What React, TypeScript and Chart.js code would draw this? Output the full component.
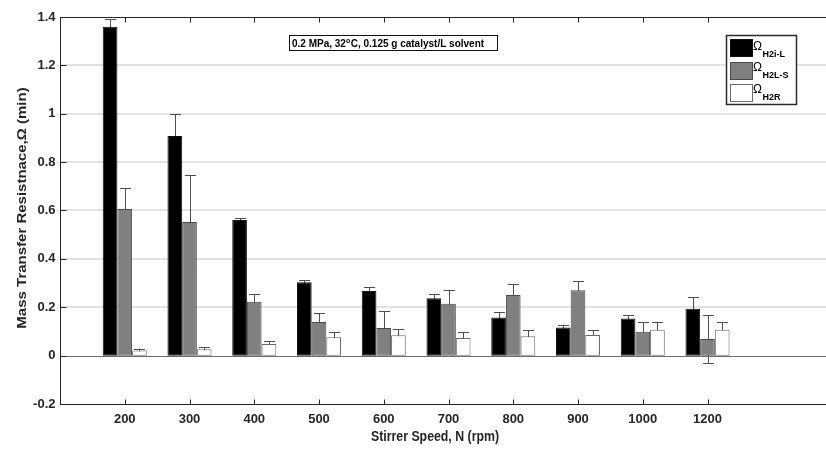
import React, { useEffect, useRef } from 'react';
import { Chart, registerables } from 'chart.js';

Chart.register(...registerables);

// ---- data ----
const speeds = ['200', '300', '400', '500', '600', '700', '800', '900', '1000', '1200'];
const omegaH2iL = [1.36, 0.908, 0.561, 0.303, 0.267, 0.237, 0.158, 0.116, 0.154, 0.194];
const errH2iL = [0.03, 0.09, 0.008, 0.011, 0.018, 0.018, 0.024, 0.012, 0.013, 0.047];
const omegaH2LS = [0.606, 0.552, 0.223, 0.139, 0.114, 0.214, 0.251, 0.27, 0.099, 0.069];
const errH2LS = [0.088, 0.193, 0.033, 0.039, 0.071, 0.057, 0.045, 0.037, 0.04, 0.098];
const omegaH2R = [0.021, 0.026, 0.048, 0.076, 0.084, 0.073, 0.08, 0.085, 0.107, 0.107];
const errH2R = [0.005, 0.008, 0.013, 0.022, 0.026, 0.025, 0.025, 0.022, 0.033, 0.033];
const yTicks = [-0.2, 0, 0.2, 0.4, 0.6, 0.8, 1.0, 1.2, 1.4];
const seriesNames = ['H2i-L', 'H2L-S', 'H2R'];
const xTitle = 'Stirrer Speed, N (rpm)';
const yTitle = 'Mass Transfer Resistnace,\u03A9 (min)';
const noteParts = ['0.2 MPa, 32', 'o', 'C, 0.125 g catalyst/L solvent'];

// padded categories: one empty slot before, two after (x limits 0..12)
const labels = ['', ...speeds, '', ''];
const pad = (a: number[]) => [null, ...a, null, null];

const FONT = '"Liberation Sans", Arial, sans-serif';
const fills = ['#000000', '#808080', '#ffffff'];
const edges = ['#111111', '#4a4a4a', '#6a6a6a'];
const errs = [errH2iL, errH2LS, errH2R];

const drawPlugin = {
  id: 'matlabStyle',
  beforeDatasetsDraw(chart: any) {
    const { ctx, chartArea: ca } = chart;
    const ys = chart.scales.y;
    ctx.save();
    // horizontal grid
    ctx.strokeStyle = '#e2e2e2';
    ctx.lineWidth = 2;
    yTicks.forEach((t) => {
      if (t === -0.2 || t === 1.4 || t === 0) return;
      const py = Math.round(ys.getPixelForValue(t));
      ctx.beginPath();
      ctx.moveTo(ca.left, py);
      ctx.lineTo(ca.right, py);
      ctx.stroke();
    });
    // error bars (behind bars)
    ctx.strokeStyle = '#505050';
    ctx.lineWidth = 1;
    chart.data.datasets.forEach((ds: any, di: number) => {
      const meta = chart.getDatasetMeta(di);
      meta.data.forEach((el: any, i: number) => {
        const v = ds.data[i];
        if (v == null) return;
        const e = errs[di][i - 1];
        const x = Math.round(el.x) + 0.5;
        const yt = Math.round(ys.getPixelForValue(v + e)) + 0.5;
        const yb = Math.round(ys.getPixelForValue(v - e)) + 0.5;
        ctx.beginPath();
        ctx.moveTo(x, yt);
        ctx.lineTo(x, yb);
        ctx.moveTo(x - 5.5, yt);
        ctx.lineTo(x + 5.5, yt);
        ctx.moveTo(x - 5.5, yb);
        ctx.lineTo(x + 5.5, yb);
        ctx.stroke();
      });
    });
    ctx.restore();
  },
  afterDatasetsDraw(chart: any) {
    const { ctx, chartArea: ca } = chart;
    const ys = chart.scales.y;
    ctx.save();
    const py = Math.round(ys.getPixelForValue(0)) + 0.5;
    ctx.strokeStyle = '#6e6e6e';
    ctx.lineWidth = 1;
    ctx.beginPath();
    ctx.moveTo(ca.left, py);
    ctx.lineTo(ca.right, py);
    ctx.stroke();
    ctx.restore();
  },
  afterDraw(chart: any) {
    const { ctx, chartArea: ca } = chart;
    const xs = chart.scales.x;
    const ys = chart.scales.y;
    ctx.save();
    const L = Math.round(ca.left) + 0.5;
    const R = Math.round(ca.right) + 0.5;
    const T = Math.round(ca.top) + 0.5;
    const B = Math.round(ca.bottom) + 0.5;
    ctx.strokeStyle = '#262626';
    ctx.lineWidth = 1;
    ctx.strokeRect(L, T, R - L, B - T);
    // x ticks (inward, bottom and top)
    ctx.beginPath();
    speeds.forEach((_, i) => {
      const x = Math.round(xs.getPixelForValue(i + 1)) + 0.5;
      ctx.moveTo(x, B);
      ctx.lineTo(x, B - 5);
      ctx.moveTo(x, T);
      ctx.lineTo(x, T + 5);
    });
    // y ticks (inward, left)
    yTicks.forEach((t) => {
      const y = Math.round(ys.getPixelForValue(t)) + 0.5;
      ctx.moveTo(L, y);
      ctx.lineTo(L + 6, y);
    });
    ctx.stroke();

    ctx.fillStyle = '#262626';
    ctx.font = `bold 13px ${FONT}`;
    ctx.textBaseline = 'middle';
    ctx.textAlign = 'right';
    yTicks.forEach((t) => {
      const y = ys.getPixelForValue(t);
      ctx.fillText(String(Math.round(t * 10) / 10), L - 5, y);
    });
    ctx.textAlign = 'center';
    speeds.forEach((s, i) => {
      const x = xs.getPixelForValue(i + 1);
      ctx.fillText(s, x, 419.5);
    });
    // axis titles
    ctx.font = `bold 14px ${FONT}`;
    ctx.save();
    ctx.translate(435, 437.5);
    ctx.scale(0.88, 1);
    ctx.fillText(xTitle, 0, 0);
    ctx.restore();
    ctx.save();
    ctx.font = `bold 15px ${FONT}`;
    ctx.translate(22, 208);
    ctx.rotate(-Math.PI / 2);
    ctx.scale(1, 0.88);
    ctx.fillText(yTitle, 0, 0);
    ctx.restore();

    // annotation box
    ctx.fillStyle = '#ffffff';
    ctx.fillRect(289.5, 35.5, 208, 15);
    ctx.strokeStyle = '#111111';
    ctx.lineWidth = 1;
    ctx.strokeRect(289.5, 35.5, 208, 15);
    ctx.fillStyle = '#000000';
    ctx.textAlign = 'left';
    ctx.textBaseline = 'alphabetic';
    const big = `bold 10px ${FONT}`;
    const small = `bold 7px ${FONT}`;
    ctx.font = big;
    const w0 = ctx.measureText(noteParts[0]).width;
    const w2 = ctx.measureText(noteParts[2]).width;
    ctx.font = small;
    const w1 = ctx.measureText(noteParts[1]).width + 0.5;
    const total = w0 + w1 + w2;
    const s = Math.min(1, 199 / total);
    ctx.save();
    ctx.translate(292, 46.5);
    ctx.scale(s, 1);
    ctx.font = big;
    ctx.fillText(noteParts[0], 0, 0);
    ctx.font = small;
    ctx.fillText(noteParts[1], w0, -4);
    ctx.font = big;
    ctx.fillText(noteParts[2], w0 + w1, 0);
    ctx.restore();

    // legend
    ctx.fillStyle = '#ffffff';
    ctx.fillRect(726.5, 35.5, 70, 69);
    ctx.strokeStyle = '#2a2a2a';
    ctx.lineWidth = 1.5;
    ctx.strokeRect(726.5, 35.5, 70, 69);
    const swY = [39.5, 62.5, 84.5];
    const omY = [50, 71, 92.5];
    const subY = [57, 78, 100];
    seriesNames.forEach((n, i) => {
      ctx.fillStyle = fills[i];
      ctx.fillRect(730.5, swY[i], 22, 17);
      ctx.strokeStyle = edges[i];
      ctx.lineWidth = 1;
      ctx.strokeRect(730.5, swY[i], 22, 17);
      ctx.fillStyle = '#000000';
      ctx.font = `12px ${FONT}`;
      ctx.fillText('\u03A9', 753, omY[i]);
      ctx.font = `bold 9px ${FONT}`;
      ctx.fillText(n, 762.5, subY[i]);
    });
    ctx.restore();
  },
};

export default function App() {
  const ref = useRef<HTMLCanvasElement | null>(null);
  useEffect(() => {
    if (!ref.current) return;
    const chart = new Chart(ref.current, {
      type: 'bar',
      data: {
        labels,
        datasets: [omegaH2iL, omegaH2LS, omegaH2R].map((d, i) => ({
          label: seriesNames[i],
          data: pad(d),
          backgroundColor: fills[i],
          borderColor: edges[i],
          borderWidth: 1,
          borderSkipped: false,
          categoryPercentage: 0.68,
          barPercentage: 1.0,
        })),
      },
      options: {
        responsive: false,
        animation: false,
        devicePixelRatio: 1,
        layout: { padding: { left: 60, top: 17, right: 23, bottom: 45 } },
        plugins: { legend: { display: false }, tooltip: { enabled: false } },
        scales: {
          x: { type: 'category', offset: false, display: false },
          y: { type: 'linear', min: -0.2, max: 1.4, display: false },
        },
      },
      plugins: [drawPlugin],
    } as any);
    return () => chart.destroy();
  }, []);
  return (
    <div style={{ position: 'fixed', left: 0, top: 0, width: 826, height: 449, overflow: 'hidden', background: '#fff' }}>
      <canvas ref={ref} width={860} height={449} style={{ display: 'block', width: 860, height: 449 }} />
    </div>
  );
}
